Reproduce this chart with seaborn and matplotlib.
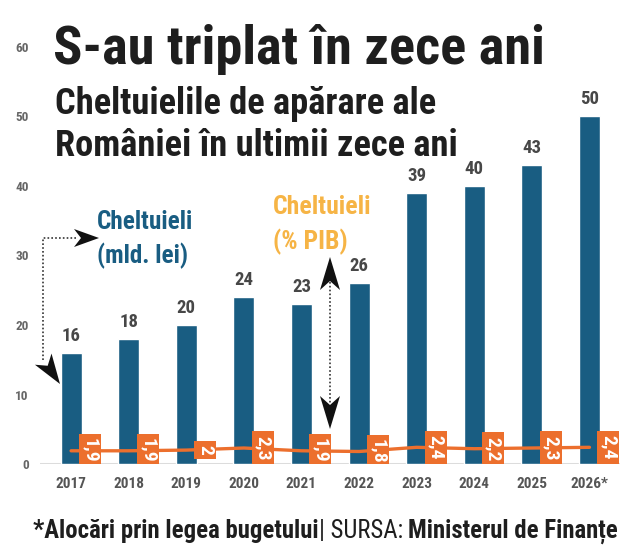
import numpy as np
import pandas as pd
import matplotlib
matplotlib.use('Agg')
import matplotlib.pyplot as plt
import seaborn as sns
from matplotlib import font_manager
from matplotlib.patches import Polygon, Rectangle
from matplotlib.transforms import IdentityTransform

# Data
years = ['2017', '2018', '2019', '2020', '2021', '2022', '2023', '2024', '2025', '2026*']
spend = [16, 18, 20, 24, 23, 26, 39, 40, 43, 50]          # mld. lei
pib = [1.9, 1.9, 2.0, 2.3, 1.9, 1.8, 2.4, 2.2, 2.3, 2.4]   # % PIB
pib_labels = ['1,9', '1,9', '2', '2,3', '1,9', '1,8', '2,4', '2,2', '2,3', '2,4']
y_ticks = [0, 10, 20, 30, 40, 50, 60]

W, H = 639, 553
BLUE = '#195d82'
ORANGE = '#ec6f2d'
GOLD = '#f6b445'
DARK = '#1e1e1e'

installed = {f.name for f in font_manager.fontManager.ttflist}
NARROW = 'Liberation Sans'
for cand in ['Roboto Condensed', 'Liberation Sans Narrow', 'Roboto']:
    if cand in installed:
        NARROW = cand
        break

sns.set_theme(style='white')
plt.rcParams['font.family'] = [NARROW, 'DejaVu Sans']

fig = plt.figure(figsize=(W / 100, H / 100), dpi=100)
ax = fig.add_axes([40 / W, 1 - 464 / H, 580 / W, 417 / H])

df = pd.DataFrame({'year': years, 'spend': spend, 'pib': pib})
sns.barplot(data=df, x='year', y='spend', color=BLUE, saturation=1, width=0.365, ax=ax, zorder=2)
sns.lineplot(x=np.arange(len(years)), y=pib, color=ORANGE, lw=2.4, ax=ax, zorder=3)
ax.axhline(0, color='#dcdcdc', lw=2.2, zorder=1)

ax.set_xlim(-0.54, 9.53)
ax.set_ylim(0, 60)
ax.set_yticks(y_ticks)
ax.set_xlabel('')
ax.set_ylabel('')
ax.tick_params(axis='y', length=0, pad=8, labelsize=9.5, labelcolor='#666666')
ax.tick_params(axis='x', length=0, pad=9, labelsize=11, labelcolor='#555555')
for lab in ax.get_xticklabels() + ax.get_yticklabels():
    lab.set_fontweight('bold')
sns.despine(ax=ax, left=True, bottom=True)
ax.grid(False)

renderer = fig.canvas.get_renderer()

for i, v in enumerate(spend):
    ax.text(i, v + 2.45, str(v), ha='center', va='center', fontsize=13.5,
            fontweight='bold', color='#474747', zorder=4)

# orange % PIB tags: rotated text on a fixed-width box
for i, (v, s) in enumerate(zip(pib, pib_labels)):
    t = ax.text(i + 0.33, v, s, rotation=-90, ha='center', va='center', fontsize=14,
                fontweight='bold', color='white', zorder=5)
    bb = t.get_window_extent(renderer)
    cx, cy = (bb.x0 + bb.x1) / 2, (bb.y0 + bb.y1) / 2
    h = bb.height + 9
    ax.add_patch(Rectangle((cx - 11, cy - h / 2), 22, h, fc=ORANGE, ec='none',
                           transform=IdentityTransform(), zorder=4.5))

# overlay in pixel coordinates for titles and annotation arrows
ov = fig.add_axes([0, 0, 1, 1])
ov.set_xlim(0, W)
ov.set_ylim(H, 0)
ov.axis('off')


def fit_text(x, y, s, width, **kw):
    t = ov.text(x, y, s, **kw)
    w = t.get_window_extent(renderer).width
    t.set_fontsize(t.get_fontsize() * width / w)
    return t


def rich_line(x, y, parts, width, size=14):
    texts = []
    cx = x
    for s, weight in parts:
        t = ov.text(cx, y, s, fontsize=size, fontweight=weight, color=DARK, va='baseline')
        cx += t.get_window_extent(renderer).width
        texts.append(t)
    scale = width / (cx - x)
    cx = x
    for t in texts:
        t.set_fontsize(size * scale)
        t.set_x(cx)
        cx += t.get_window_extent(renderer).width


def arrow_head(tip, direction, length, half_width, notch):
    d = np.array(direction, dtype=float)
    d = d / np.hypot(*d)
    p = np.array([-d[1], d[0]])
    tip = np.array(tip, dtype=float)
    back = tip - length * d
    pts = [tip, back + half_width * p, tip - (length - notch) * d, back - half_width * p]
    ov.add_patch(Polygon(pts, closed=True, fc='#111111', ec='none', zorder=6))


title = fit_text(53, 64, 'S-au triplat în zece ani', 492, fontsize=36,
                 fontweight='bold', color=DARK, va='baseline')
sub1 = fit_text(55, 114, 'Cheltuielile de apărare ale', 382, fontsize=24,
                fontweight='bold', color=DARK, va='baseline')
ov.text(55, 156, 'României în ultimii zece ani', fontsize=sub1.get_fontsize(),
        fontweight='bold', color=DARK, va='baseline')

b1 = fit_text(97, 222, 'Cheltuieli', 96, fontsize=18, fontweight='bold', color=BLUE, va='center')
ov.text(97, 256, '(mld. lei)', fontsize=b1.get_fontsize(), fontweight='bold', color=BLUE, va='center')
g1 = fit_text(273, 207, 'Cheltuieli', 98, fontsize=18, fontweight='bold', color=GOLD, va='center')
ov.text(273, 242, '(% PIB)', fontsize=g1.get_fontsize(), fontweight='bold', color=GOLD, va='center')

rich_line(33, 538, [('*Alocări prin legea bugetului', 'bold'), ('| SURSA: ', 'normal'),
                    ('Ministerul de Finanțe', 'bold')], 589)

# arrows
dots = dict(color='#333333', lw=1.2, ls=(0, (1, 1.3)), zorder=6)
ov.plot([76, 43, 43], [238, 238, 360], **dots)
arrow_head((99, 238), (1, 0), 25, 9, 7)
arrow_head((60, 384), (0.56, 0.83), 30, 10, 8)
ov.plot([330, 330], [282, 403], **dots)
arrow_head((330, 257), (0, -1), 33, 10, 9)
arrow_head((330, 429), (0, 1), 33, 10, 9)

fig.savefig('out.png', dpi=100)
